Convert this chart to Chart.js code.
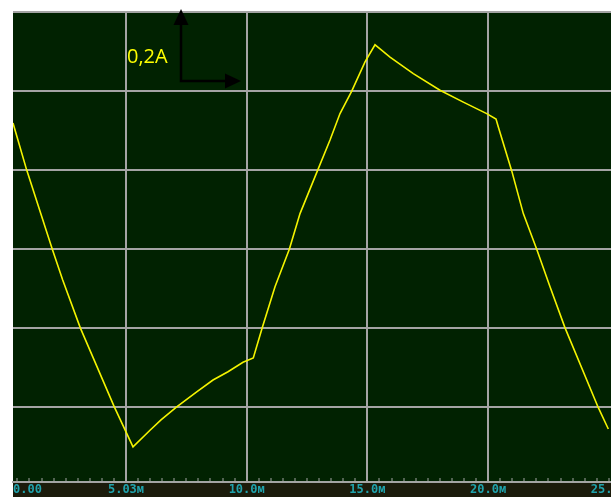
<!DOCTYPE html>
<html>
<head>
<meta charset="utf-8">
<script src="https://cdn.jsdelivr.net/npm/chart.js@4"></script>
<style>
  html, body { margin: 0; padding: 0; background: #ffffff; }
  canvas { display: block; }
</style>
</head>
<body>
<canvas id="scope" width="611" height="497"></canvas>
<script>
// Oscilloscope trace: current (A) against time (ms)
const timeMs = [
  0.319, 0.887, 1.947, 2.378, 3.107, 4.515, 5.290,
  5.994, 6.450, 7.100, 7.929, 8.604, 9.225, 9.847, 10.273,
  10.646, 11.172, 11.765, 12.208, 12.941, 13.451, 13.865, 14.350, 14.901, 15.315,
  15.522, 15.936, 16.901, 18.007, 18.973, 19.942, 20.327,
  20.423, 20.978, 21.458, 22.013, 22.564, 23.186, 24.565, 24.979
];
const currentA = [
  0.319, 0.200, 0.000, -0.078, -0.199, -0.399, -0.500,
  -0.458, -0.432, -0.399, -0.361, -0.331, -0.310, -0.286, -0.275,
  -0.198, -0.095, 0.000, 0.090, 0.200, 0.276, 0.343, 0.400, 0.474, 0.517,
  0.507, 0.486, 0.444, 0.402, 0.372, 0.343, 0.329,
  0.309, 0.198, 0.090, 0.000, -0.095, -0.199, -0.401, -0.455
];

// Horizontal divisions: 0.2 A each
const yDivisions = [-0.4, -0.2, 0, 0.2, 0.4, 0.6];
// Time axis labels
const xTickTimes = [0, 5, 10, 15, 20, 25];
const xTickLabels = ['0.00', '5.03м', '10.0м', '15.0м', '20.0м', '25.0м'];
const scaleLabel = '0,2A';

const X_MIN = 0.319, X_MAX = 25.09;
const Y_MIN = -0.589, Y_MAX = 0.6;
const GRID = '#a4a4a4';
const NONE = 'rgba(0,0,0,0)';

function majorValue(v) { return Math.max(v, X_MIN); }
function isMajor(v) {
  return xTickTimes.some(t => Math.abs(majorValue(t) - v) < 1e-6);
}

const screenPlugin = {
  id: 'screen',
  beforeDraw(chart) {
    const { ctx, chartArea: a, width, height } = chart;
    ctx.save();
    ctx.fillStyle = '#ffffff';
    ctx.fillRect(0, 0, width, height);
    ctx.fillStyle = '#012201';
    ctx.fillRect(a.left, a.top, width - a.left, a.bottom - a.top);
    ctx.fillStyle = '#1b1b0b';
    ctx.fillRect(a.left, a.bottom, width - a.left, height - a.bottom);
    ctx.restore();
  },
  afterDraw(chart) {
    const { ctx, chartArea: a } = chart;
    const cx = a.left + 168, cy = a.top + 69;
    ctx.save();
    // scale arrows
    ctx.strokeStyle = '#000000';
    ctx.fillStyle = '#000000';
    ctx.lineWidth = 2.5;
    ctx.beginPath();
    ctx.moveTo(cx, a.top + 12);
    ctx.lineTo(cx, cy);
    ctx.lineTo(cx + 47, cy);
    ctx.stroke();
    ctx.beginPath();
    ctx.moveTo(cx, a.top - 3);
    ctx.lineTo(cx - 7.5, a.top + 13);
    ctx.lineTo(cx + 7.5, a.top + 13);
    ctx.closePath();
    ctx.fill();
    ctx.beginPath();
    ctx.moveTo(cx + 60, cy);
    ctx.lineTo(cx + 44, cy - 7.5);
    ctx.lineTo(cx + 44, cy + 7.5);
    ctx.closePath();
    ctx.fill();
    // division label
    ctx.fillStyle = '#ffff00';
    ctx.font = '20px "Open Sans"';
    ctx.textBaseline = 'alphabetic';
    ctx.textAlign = 'left';
    ctx.fillText(scaleLabel, a.left + 114, a.top + 51);
    ctx.restore();
  }
};

new Chart(document.getElementById('scope'), {
  type: 'line',
  data: {
    datasets: [{
      data: timeMs.map((t, i) => ({ x: t, y: currentA[i] })),
      borderColor: '#f4f400',
      borderWidth: 1.6,
      pointRadius: 0,
      tension: 0,
      fill: false
    }]
  },
  options: {
    responsive: false,
    animation: false,
    devicePixelRatio: 1,
    layout: { padding: { left: 13, top: 12, right: 0, bottom: 0 } },
    plugins: { legend: { display: false }, tooltip: { enabled: false } },
    scales: {
      x: {
        type: 'linear',
        min: X_MIN,
        max: X_MAX,
        afterBuildTicks(scale) {
          const vals = xTickTimes.map(majorValue);
          for (let v = 0.5; v < X_MAX; v += 0.5) {
            const r = Math.round(v * 2) / 2;
            if (!vals.some(m => Math.abs(m - r) < 1e-6)) vals.push(r);
          }
          vals.push(X_MAX);
          vals.sort((p, q) => p - q);
          scale.ticks = vals.map(v => ({ value: v }));
        },
        afterFit(scale) {
          scale.height = 15;
          scale.paddingLeft = 0;
          scale.paddingRight = 0;
        },
        grid: {
          color: ctx => (ctx.tick && isMajor(ctx.tick.value) && ctx.tick.value > X_MIN + 1e-6 && ctx.tick.value < 24) ? GRID : NONE,
          tickColor: ctx => (ctx.tick && ctx.tick.value > X_MIN + 1e-6 && ctx.tick.value < X_MAX - 1e-6) ? GRID : NONE,
          lineWidth: 2,
          tickWidth: 1,
          tickLength: -4,
          drawTicks: true
        },
        border: { display: true, color: GRID, width: 2 },
        ticks: {
          autoSkip: false,
          maxRotation: 0,
          align: 'inner',
          padding: 5,
          color: '#1fa2ac',
          font: { family: '"DejaVu Sans Mono"', size: 12, weight: 'bold' },
          callback(value) {
            const i = xTickTimes.findIndex(t => Math.abs(majorValue(t) - value) < 1e-6);
            return i >= 0 ? xTickLabels[i] : '';
          }
        }
      },
      y: {
        type: 'linear',
        min: Y_MIN,
        max: Y_MAX,
        afterBuildTicks(scale) {
          scale.ticks = yDivisions.map(v => ({ value: v }));
        },
        afterFit(scale) { scale.width = 0; },
        grid: { color: GRID, lineWidth: 2, drawTicks: false },
        border: { display: false },
        ticks: { display: false }
      }
    }
  },
  plugins: [screenPlugin]
});
</script>
</body>
</html>
